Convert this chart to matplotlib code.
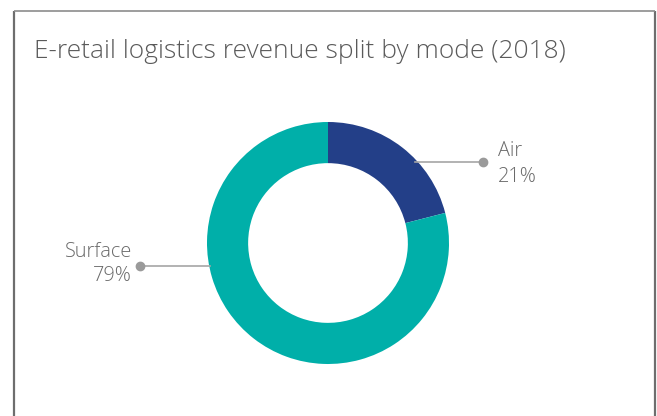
import matplotlib
matplotlib.use("Agg")
import matplotlib.pyplot as plt

categories = ["Air", "Surface"]
values = [21, 79]
colors = ["#233f88", "#00afa9"]
title = "E-retail logistics revenue split by mode (2018)"

W, H = 657, 416
fig = plt.figure(figsize=(W / 100, H / 100), dpi=100)
ax = fig.add_axes([0, 0, 1, 1])

def Y(y):
    return H - y

cx, cy, R = 328, Y(243), 121
ax.pie(values, colors=colors, startangle=90, counterclock=False,
       radius=R, center=(cx, cy), frame=True,
       wedgeprops=dict(width=R * 0.34, linewidth=0))
ax.set_xlim(0, W)
ax.set_ylim(0, H)
ax.set_aspect("equal")
ax.axis("off")

# frame
ax.plot([14, 14], [Y(10.5), -5], color="#6e6e6e", lw=1.6, solid_capstyle="butt")
ax.plot([654.5, 654.5], [Y(10.5), -5], color="#6e6e6e", lw=1.6, solid_capstyle="butt")
ax.plot([13.5, 655], [Y(10.5), Y(10.5)], color="#8c8c8c", lw=1.2, solid_capstyle="butt")

tc = "#6a6a6a"
font = dict(family=["Open Sans", "DejaVu Sans"], fontweight="light")
ax.text(34, Y(57.7), title, fontsize=19, color="#5a5a5a", va="baseline", ha="left", **font)

# leader lines
lc = "#a6a6a6"
ax.plot([415, 483], [Y(162), Y(162)], color=lc, lw=1.2)
ax.plot([483], [Y(162)], "o", color="#9a9a9a", ms=6)
ax.text(498, Y(155.7), categories[0], fontsize=14.3, color=tc, ha="left", va="baseline", **font)
ax.text(498, Y(181.7), f"{values[0]}%", fontsize=14.3, color=tc, ha="left", va="baseline", **font)

ax.plot([140, 210], [Y(266), Y(266)], color=lc, lw=1.2)
ax.plot([140], [Y(266)], "o", color="#9a9a9a", ms=6)
ax.text(132, Y(257), categories[1], fontsize=14.3, color=tc, ha="right", va="baseline", **font)
ax.text(132, Y(280.7), f"{values[1]}%", fontsize=14.3, color=tc, ha="right", va="baseline", **font)

fig.savefig("out.png", dpi=100)
